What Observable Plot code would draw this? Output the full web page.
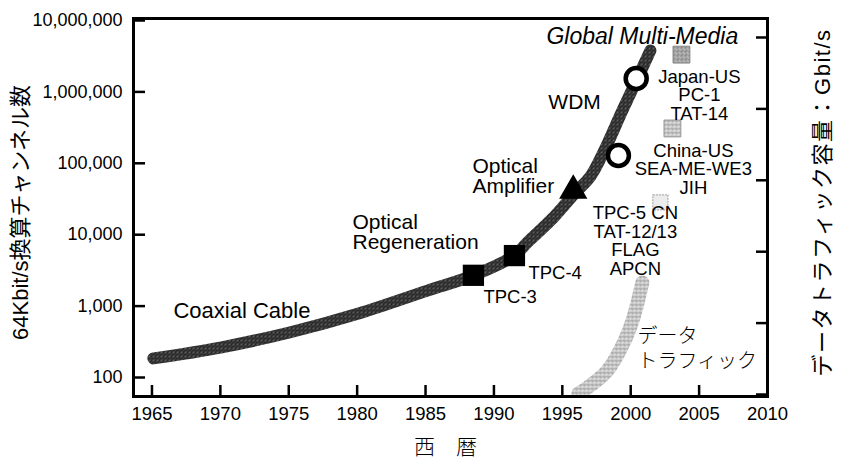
<!DOCTYPE html>
<html><head><meta charset="utf-8">
<script src="https://cdn.jsdelivr.net/npm/d3@7"></script>
<script src="https://cdn.jsdelivr.net/npm/@observablehq/plot@0.6"></script>
<style>
body{margin:0;background:#fff;}
#chart svg{display:block;}
</style></head><body><div id="chart"></div>
<script>
// ---- data ----
const curveYears = [1965.1, 1970.0, 1975.05, 1980.1, 1985.14, 1988.5, 1991.49, 1992.44, 1994.35, 1995.96, 1997.05, 1998.0, 1999.39, 2000.49, 2001.44];
const curveChannels = [185, 263, 427, 787, 1650, 2690, 5110, 7780, 17400, 39000, 65300, 141600, 548000, 1540000, 3800000];

const systemNames = ["TPC-3", "TPC-4", "Optical Amplifier", "China-US", "Japan-US"];
const systemYears = [1988.5, 1991.5, 1995.8, 1999.1, 2000.4];
const systemChannels = [2700, 5100, 41600, 128500, 1540000];
const systemSymbols = ["square", "square", "triangle", "circle", "circle"];

const trafficYears = [1996.18, 1997.05, 1998.3, 1999.46, 2000.2, 2000.85];
const trafficGbps = [0.7, 6.3, 16.8, 35.7, 53.9, 78.4];

const forecastYears = [2002.17, 2003.05, 2003.71];
const forecastGbps = [134.5, 186.3, 238];

const xTicks = [1965, 1970, 1975, 1980, 1985, 1990, 1995, 2000, 2005, 2010];
const leftTicks = [100, 1000, 10000, 100000, 1000000, 10000000];
const rightTicks = [0, 50, 100, 150, 200, 250];

// right axis (Gbit/s) aligned to the left log axis: 50 Gbit/s per decade
const rightBase = 1.762, gbpsPerDecade = 50;
const toLeft = v => Math.pow(10, rightBase + v / gbpsPerDecade);
const toRight = d => Math.round((Math.log10(d) - rightBase) * gbpsPerDecade);

const coaxLabel = [{x: 1966.57, y: 867, text: "Coaxial Cable"}];
const bigLabels = [
  {x: 1979.66, y: 10740, text: "Optical\nRegeneration"},
  {x: 1988.43, y: 65300, text: "Optical\nAmplifier"},
  {x: 1993.98, y: 711000, text: "WDM"}
];
const titleLabel = [{x: 1993.84, y: 5970000, text: "Global Multi-Media"}];
const tpcLabels = [
  {x: 1989.23, y: 1320, text: "TPC-3"},
  {x: 1992.52, y: 2860, text: "TPC-4"}
];
const systemLabels = [
  {x: 2005.02, y: 891000, text: "Japan-US\nPC-1\nTAT-14"},
  {x: 2004.58, y: 81900, text: "China-US\nSEA-ME-WE3\nJIH"},
  {x: 2000.34, y: 8170, text: "TPC-5 CN\nTAT-12/13\nFLAG\nAPCN"}
];
const trafficLabel = [{x: 2000.49, y: 259, text: "データ\nトラフィック"}];

const curve = curveYears.map((x, i) => ({x, y: curveChannels[i]}));
const systems = systemYears.map((x, i) => ({x, y: systemChannels[i], s: systemSymbols[i], name: systemNames[i]}));
const traffic = trafficYears.map((x, i) => ({x, y: toLeft(trafficGbps[i])}));
const forecast = forecastYears.map((x, i) => ({x, y: toLeft(forecastGbps[i]), i}));

const font = "'Liberation Sans', Arial, 'Noto Sans CJK JP', sans-serif";
const cjk = "'Noto Sans CJK JP', sans-serif";

const chart = Plot.plot({
  width: 842, height: 461,
  marginLeft: 133, marginRight: 75, marginTop: 18, marginBottom: 65,
  style: {fontFamily: font, background: "#fff", color: "#000", overflow: "visible"},
  x: {domain: [1963.65, 2010]},
  y: {type: "log", domain: [Math.pow(10, 1.734), Math.pow(10, 7.028)]},
  marks: [
    Plot.line(traffic, {x: "x", y: "y", curve: "catmull-rom", stroke: "url(#lightTex)", strokeWidth: 14, clip: true}),
    Plot.dot(forecast.filter(d => d.i === 0), {x: "x", y: "y", symbol: "square", r: 8.5, fill: "#ececec", stroke: "#aaa", strokeWidth: 1.2, strokeDasharray: "2,1"}),
    Plot.dot(forecast.filter(d => d.i === 1), {x: "x", y: "y", symbol: "square", r: 9.5, fill: "url(#lightTex)", stroke: "#999", strokeWidth: 1}),
    Plot.dot(forecast.filter(d => d.i === 2), {x: "x", y: "y", symbol: "square", r: 9.5, fill: "url(#midTex)", stroke: "#888", strokeWidth: 1}),
    Plot.line(curve, {x: "x", y: "y", curve: "catmull-rom", stroke: "url(#darkTex)", strokeWidth: 12}),
    Plot.dot(systems.filter(d => d.s === "square"), {x: "x", y: "y", symbol: "square", r: 12, fill: "#000"}),
    Plot.dot(systems.filter(d => d.s === "triangle"), {x: "x", y: "y", symbol: "triangle", r: 10.5, fill: "#000"}),
    Plot.dot(systems.filter(d => d.s === "circle"), {x: "x", y: "y", r: 10.5, fill: "#fff", stroke: "#000", strokeWidth: 4.5}),
    Plot.text(coaxLabel, {x: "x", y: "y", text: "text", textAnchor: "start", lineAnchor: "middle", fontSize: 22}),
    Plot.text(bigLabels, {x: "x", y: "y", text: "text", textAnchor: "start", lineAnchor: "middle", fontSize: 21, lineHeight: 0.97}),
    Plot.text(titleLabel, {x: "x", y: "y", text: "text", textAnchor: "start", lineAnchor: "middle", fontSize: 23, fontStyle: "italic"}),
    Plot.text(tpcLabels, {x: "x", y: "y", text: "text", textAnchor: "start", lineAnchor: "middle", fontSize: 18.5}),
    Plot.text(systemLabels, {x: "x", y: "y", text: "text", textAnchor: "middle", lineAnchor: "middle", fontSize: 18.5, lineHeight: 1.0}),
    Plot.text(trafficLabel, {x: "x", y: "y", text: "text", textAnchor: "start", lineAnchor: "middle", fontSize: 20, lineHeight: 1.25, fontFamily: cjk, fontWeight: 300}),
    Plot.axisX({ticks: xTicks, tickSize: -11, tickPadding: 21, tickFormat: d => String(d), fontSize: 18.5, strokeWidth: 2.5, label: null}),
    Plot.axisY({ticks: leftTicks, tickSize: -12, tickPadding: 23, tickFormat: d3.format(","), fontSize: 18, strokeWidth: 2.5, label: null}),
    Plot.axisY({anchor: "right", ticks: rightTicks.map(toLeft), tickSize: -12, tickPadding: 22, tickFormat: toRight, fontSize: 18.5, strokeWidth: 2.5, label: null}),
    Plot.frame({strokeWidth: 3}),
    Plot.text(["64Kbit/s換算チャンネル数"], {frameAnchor: "left", dx: -113, dy: 5, rotate: -90, textAnchor: "middle", lineAnchor: "middle", fontSize: 22}),
    Plot.text(["データトラフィック容量：Gbit/s"], {frameAnchor: "right", dx: 55, dy: -5, rotate: -90, textAnchor: "middle", lineAnchor: "middle", fontSize: 22, className: "right-title"}),
    Plot.text(["西　暦"], {frameAnchor: "bottom", dx: -5, dy: 51, textAnchor: "middle", lineAnchor: "middle", fontSize: 21, fontFamily: cjk, fontWeight: 300})
  ]
});

// dithered textures imitating the printed halftone
const svg = d3.select(chart);
const defs = svg.insert("defs", ":first-child");
function addPattern(id, base, dots) {
  const p = defs.append("pattern").attr("id", id).attr("patternUnits", "userSpaceOnUse").attr("width", 4).attr("height", 4);
  p.append("rect").attr("width", 4).attr("height", 4).attr("fill", base);
  dots.forEach(([x, y, c]) => p.append("rect").attr("x", x).attr("y", y).attr("width", 1).attr("height", 1).attr("fill", c));
}
addPattern("darkTex", "#262626", [[0, 0, "#8a8a8a"], [2, 1, "#555"], [1, 3, "#9a9a9a"], [3, 2, "#444"]]);
addPattern("lightTex", "#c6c6c6", [[0, 0, "#8c8c8c"], [2, 2, "#ffffff"], [3, 0, "#a0a0a0"], [1, 2, "#f0f0f0"], [2, 3, "#999"]]);
addPattern("midTex", "#a8a8a8", [[0, 0, "#666"], [2, 2, "#e0e0e0"], [3, 1, "#777"], [1, 3, "#888"]]);
svg.selectAll(".right-title text").attr("letter-spacing", "1.5px");

document.getElementById("chart").append(chart);
</script>
</body></html>
